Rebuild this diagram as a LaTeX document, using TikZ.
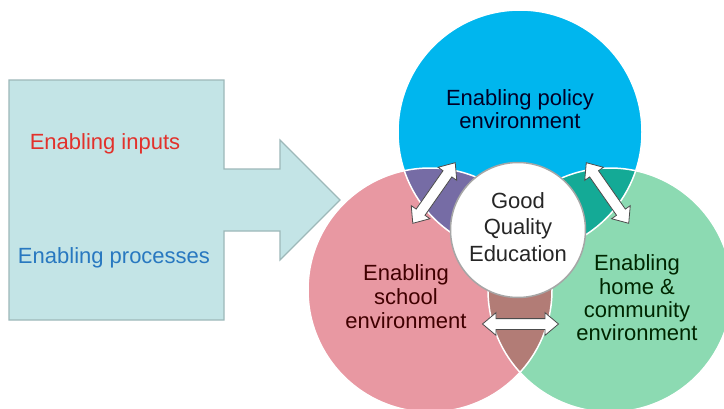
\documentclass[tikz,border=0pt]{standalone}
\usepackage{fontspec}
\setmainfont{Liberation Sans}
\usetikzlibrary{shapes.arrows}
\definecolor{cblue}{HTML}{00B6EE}
\definecolor{cpink}{HTML}{E898A2}
\definecolor{cgreen}{HTML}{8CDAB2}
\definecolor{cpurple}{HTML}{766CA5}
\definecolor{cteal}{HTML}{14AA96}
\definecolor{cbrown}{HTML}{B27C76}
\definecolor{cbox}{HTML}{C3E4E6}
\definecolor{cboxline}{HTML}{9DB8B9}
\definecolor{cred}{HTML}{E2312B}
\definecolor{cbluetext}{HTML}{2878C0}
\begin{document}
\begin{tikzpicture}[x=1pt,y=-1pt,
  lbl/.style={font=\fontsize{22}{23}\selectfont, align=center, inner sep=0pt},
  dblarrow/.style={double arrow, draw=black!70, line width=0.8pt, fill=white,
    double arrow head extend=6pt, double arrow tip angle=80, inner sep=0pt,
    double arrow head indent=0pt}]
\clip (0,0) rectangle (724,408);
\useasboundingbox (0,0) rectangle (724,408);
\fill[white] (0,0) rectangle (724,408);
% named centres
\coordinate (cp) at (520,132);
\coordinate (cs) at (430,290);
\coordinate (ch) at (610,290);
% left block arrow
\draw[fill=cbox, draw=cboxline, line width=1.2pt]
  (9,80) -- (224,80) -- (224,169) -- (280,169) -- (280,140) -- (340,200)
  -- (280,260) -- (280,231) -- (224,231) -- (224,320) -- (9,320) -- cycle;
\node[lbl, text=cred] (inputs) at (105,144) {Enabling inputs};
\node[lbl, text=cbluetext] (processes) at (114,258) {Enabling processes};
% circles
\fill[cpink] (cs) circle[radius=122pt];
\fill[cgreen] (ch) circle[radius=122pt];
\fill[cblue] (cp) circle[radius=122pt];
\begin{scope}
  \clip (cs) circle[radius=122pt];
  \fill[cpurple] (cp) circle[radius=122pt];
\end{scope}
\begin{scope}
  \clip (ch) circle[radius=122pt];
  \fill[cteal] (cp) circle[radius=122pt];
\end{scope}
\begin{scope}
  \clip (cs) circle[radius=122pt];
  \fill[cbrown] (ch) circle[radius=122pt];
\end{scope}
\draw[white, line width=1.5pt] (cs) circle[radius=122pt];
\draw[white, line width=1.5pt] (ch) circle[radius=122pt];
\draw[white, line width=1.5pt] (cp) circle[radius=122pt];
% centre circle
\node[circle, fill=white, draw=black!35, line width=1.5pt, minimum size=135pt, inner sep=0pt] (good) at (518,230) {};
% double arrows
\node[dblarrow, minimum height=74pt, rotate=55] (a1) at (434,193) {\rule{0pt}{10pt}};
\node[dblarrow, minimum height=74pt, rotate=-55] (a2) at (607.5,193) {\rule{0pt}{10pt}};
\node[dblarrow, minimum height=76pt] (a3) at (520.5,324) {\rule{0pt}{10pt}};
% texts
\node[lbl, text=black!85!blue] (policy) at (520,109) {Enabling policy\\environment};
\node[lbl, font=\fontsize{22}{26.5}\selectfont, text=black!85] (goodtext) at (518,227) {Good\\Quality\\Education};
\node[lbl, font=\fontsize{22}{24}\selectfont, text=black!75!red] (school) at (406,297) {Enabling\\school\\environment};
\node[lbl, font=\fontsize{22}{23.3}\selectfont, text=black!85!green] (home) at (637,298) {Enabling\\home \&\\community\\environment};
\end{tikzpicture}
\end{document}
